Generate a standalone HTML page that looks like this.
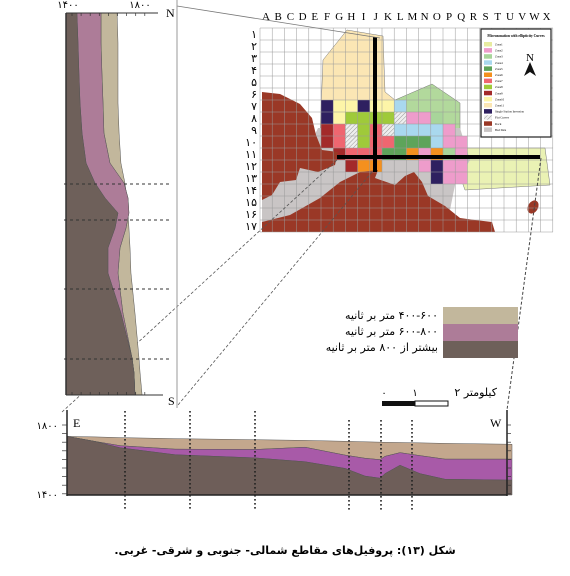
<!DOCTYPE html>
<html><head><meta charset="utf-8"><style>
body{margin:0;background:#fff;width:570px;height:576px;overflow:hidden}
svg{display:block}
text{font-family:"Liberation Serif","DejaVu Sans",serif}
.fa{font-family:"DejaVu Sans",sans-serif;direction:rtl;unicode-bidi:embed}
</style></head><body>
<svg id="fig" width="570" height="576" viewBox="0 0 570 576" xmlns="http://www.w3.org/2000/svg">
<defs>
<pattern id="hatch" width="3" height="3" patternUnits="userSpaceOnUse" patternTransform="rotate(45)"><rect width="3" height="3" fill="#eee"/><line x1="0" y1="0" x2="0" y2="3" stroke="#999" stroke-width="1"/></pattern>
</defs>
<g id="map"></g>
<g id="left"></g>
<g id="bottom"></g>
<g id="legend">
<rect x="443" y="307" width="75" height="17" fill="#c2b79c"/>
<rect x="443" y="324" width="75" height="17" fill="#ad7c98"/>
<rect x="443" y="341" width="75" height="17" fill="#6e605a"/>
<text class="fa" x="438" y="319" font-size="11" text-anchor="start">۴۰۰-۶۰۰ متر بر ثانیه</text>
<text class="fa" x="438" y="335" font-size="11" text-anchor="start">۶۰۰-۸۰۰ متر بر ثانیه</text>
<text class="fa" x="438" y="351" font-size="11" text-anchor="start">بیشتر از ۸۰۰ متر بر ثانیه</text>
</g>
<g>
<rect x="382" y="401" width="33" height="5" fill="#111"/>
<rect x="415" y="401" width="33" height="5" fill="#fff" stroke="#111" stroke-width="1"/>
<text x="384" y="396" font-size="10" text-anchor="middle">۰</text>
<text x="415" y="396" font-size="10" text-anchor="middle">۱</text>
<text class="fa" x="497" y="396" font-size="11" text-anchor="start">کیلومتر ۲</text>
</g>
<text class="fa" x="285" y="554" font-size="11" font-weight="bold" text-anchor="middle">شکل (۱۳): پروفیل‌های مقاطع شمالی- جنوبی و شرقی- غربی.</text>
</svg>
<script>
const NS="http://www.w3.org/2000/svg";
function mk(p,t,a){const e=document.createElementNS(NS,t);for(const k in a)e.setAttribute(k,a[k]);p.appendChild(e);return e;}
// ---------- N-S profile data ----------
const nsPos=[0,30,60,90,120,150,170,185,200,215,235,260,300,345,360,382];
const nsTop=[1647,1652,1652,1652,1658,1668,1690,1701,1707,1712,1718,1723,1745,1767,1773,1784];
const nsMid=[1559,1559,1564,1570,1575,1608,1685,1707,1712,1696,1663,1652,1679,1729,1740,1745];
const nsBot=[1427,1433,1438,1444,1455,1477,1526,1581,1652,1636,1597,1597,1668,1729,1740,1745];
const nsDash=[171,207,276,346];
const L=document.getElementById('left');
const lx=v=>72+(v-1400)*(145-72)/400, ly=d=>13+d;
function band(g,pts,fill,name){
  const e=mk(g,'polygon',{points:pts.join(' '),fill:fill,stroke:'#555','stroke-width':0.5});
  return e;}
function lband(a,b,fill,name){
  const pts=[];nsPos.forEach((p,i)=>pts.push(lx(a[i])+','+ly(p)));
  for(let i=nsPos.length-1;i>=0;i--)pts.push((b?lx(b[i]):66)+','+ly(nsPos[i]));
  band(L,pts,fill,name);}
lband(nsTop,nsMid,'#c2b79c','ns-band-400-600');
lband(nsMid,nsBot,'#ad7c98','ns-band-600-800');
lband(nsBot,null,'#6e605a','ns-band-over-800');
mk(L,'line',{x1:66,y1:13,x2:66,y2:395,stroke:'#333','stroke-width':1.5});
mk(L,'line',{x1:66,y1:13,x2:158,y2:13,stroke:'#333','stroke-width':1});
mk(L,'line',{x1:66,y1:395,x2:163,y2:395,stroke:'#333','stroke-width':1});
for(let i=0;i<9;i++){const x=72+i*9.1;mk(L,'line',{x1:x,y1:13,x2:x,y2:16,stroke:'#333','stroke-width':0.7});mk(L,'line',{x1:x,y1:392,x2:x,y2:395,stroke:'#333','stroke-width':0.7});}
nsDash.forEach(d=>{const e=mk(L,'line',{x1:64,y1:ly(d),x2:170,y2:ly(d),stroke:'#333','stroke-width':1,'stroke-dasharray':'3,3'});});
mk(L,'line',{x1:177,y1:0,x2:177,y2:408,stroke:'#999','stroke-width':1});
[['۱۴۰۰',68],['۱۸۰۰',140]].forEach(t=>{const e=mk(L,'text',{x:t[1],y:8,'font-size':10,'text-anchor':'middle'});e.textContent=t[0];});
let e=mk(L,'text',{x:166,y:17,'font-size':12});e.textContent='N';
e=mk(L,'text',{x:168,y:405,'font-size':12});e.textContent='S';
// ---------- E-W profile data ----------
const ewPos=[0,28,53,108,188,238,278,298,313,318,333,353,378,445];
const ewTop=[1735,1732,1728,1722,1716,1712,1707,1704,1702,1701,1700,1698,1695,1690];
const ewMid=[1735,1706,1682,1662,1660,1673,1628,1610,1602,1621,1642,1625,1605,1605];
const ewBot=[1735,1706,1670,1630,1612,1590,1552,1508,1496,1522,1570,1522,1490,1485];
const ewDash=[125,190,255,349,381,412];
const B=document.getElementById('bottom');
const bx=p=>67+p*(507-67)/440, by=v=>495-(v-1400)*(495-425)/400;
function bband(a,b,fill,name){
  const pts=[];ewPos.forEach((p,i)=>pts.push(bx(p)+','+by(a[i])));
  for(let i=ewPos.length-1;i>=0;i--)pts.push(bx(ewPos[i])+','+(b?by(b[i]):495));
  band(B,pts,fill,name);}
bband(ewTop,ewMid,'#c3a78d','ew-band-400-600');
bband(ewMid,ewBot,'#a85aa8','ew-band-600-800');
bband(ewBot,null,'#6e5e59','ew-band-over-800');
mk(B,'line',{x1:67,y1:410,x2:67,y2:496,stroke:'#222','stroke-width':1.5});
mk(B,'line',{x1:507,y1:410,x2:507,y2:496,stroke:'#222','stroke-width':1.5});
mk(B,'line',{x1:67,y1:495,x2:507,y2:495,stroke:'#222','stroke-width':1.5});
for(let i=0;i<9;i++){const y=425+i*8.6;mk(B,'line',{x1:62,y1:y,x2:67,y2:y,stroke:'#333','stroke-width':0.7});mk(B,'line',{x1:507,y1:y,x2:511,y2:y,stroke:'#333','stroke-width':0.7});}
e=mk(B,'text',{x:58,y:429,'font-size':10,'text-anchor':'end'});e.textContent='۱۸۰۰';
e=mk(B,'text',{x:58,y:498,'font-size':10,'text-anchor':'end'});e.textContent='۱۴۰۰';
e=mk(B,'text',{x:73,y:427,'font-size':12});e.textContent='E';
e=mk(B,'text',{x:490,y:427,'font-size':12});e.textContent='W';
ewDash.forEach((x,i)=>{const y0=i<3?411:420;const el=mk(B,'line',{x1:x,y1:y0,x2:x,y2:510,stroke:'#222','stroke-width':1.6,'stroke-dasharray':'1.6,2.4'});});
// ---------- Map ----------
const M=document.getElementById('map');
const cx=c=>260+c*12.2, cy=r=>28+r*12;
mk(M,'polygon',{points:'347,30 383,36 385,92 395,100 395,135 320,135 323,60',fill:'#fbe6b4',stroke:'#777','stroke-width':0.5});
mk(M,'polygon',{points:'395,100 432,84 460,103 460,135 395,135',fill:'#b2d99c',stroke:'#777','stroke-width':0.5});
mk(M,'polygon',{points:'450,148 545,148 550,185 465,190',fill:'#eaf2b4',stroke:'#777','stroke-width':0.5});
mk(M,'polygon',{points:'262,200 270,175 300,165 318,128 460,128 470,160 455,185 450,210 460,222 262,230',fill:'#c9c5c5'});
const C={nv:'#2e2060',ly:'#fdf5a8',lb:'#a9d8ee',lg:'#a8d59a',lm:'#9fca3a',pk:'#ee9ccb',dr:'#a32a2a',sa:'#ef6670',dg:'#5ea45a',or:'#f4901e',ht:'url(#hatch)'};
const cells=[
[6,5,'nv'],[6,6,'ly'],[6,7,'ly'],[6,8,'nv'],[6,9,'ly'],[6,10,'ly'],[6,11,'lb'],
[7,5,'nv'],[7,6,'ly'],[7,7,'lm'],[7,8,'lm'],[7,9,'lm'],[7,10,'lm'],[7,11,'ht'],[7,12,'pk'],[7,13,'pk'],[7,14,'lg'],
[8,5,'dr'],[8,6,'sa'],[8,7,'ht'],[8,8,'lm'],[8,9,'sa'],[8,10,'ht'],[8,11,'lb'],[8,12,'lb'],[8,13,'lb'],[8,14,'lb'],[8,15,'pk'],
[9,5,'dr'],[9,6,'sa'],[9,7,'ht'],[9,8,'lm'],[9,9,'sa'],[9,10,'sa'],[9,11,'dg'],[9,12,'dg'],[9,13,'dg'],[9,14,'lb'],[9,15,'pk'],[9,16,'pk'],
[10,6,'dr'],[10,7,'sa'],[10,8,'sa'],[10,9,'sa'],[10,10,'dg'],[10,11,'dg'],[10,12,'or'],[10,13,'pk'],[10,14,'or'],[10,15,'lg'],[10,16,'pk'],
[11,7,'dr'],[11,8,'or'],[11,9,'or'],[11,13,'pk'],[11,14,'nv'],[11,15,'pk'],[11,16,'pk'],
[12,14,'nv'],[12,15,'pk'],[12,16,'pk']];
cells.forEach(c=>{const el=mk(M,'rect',{x:cx(c[1]),y:cy(c[0]),width:12.2,height:12,fill:C[c[2]]});});
const rock='#9a3826';
mk(M,'polygon',{points:'262,92 280,94 300,104 312,118 316,135 322,150 338,152 335,165 318,172 300,168 296,180 280,182 272,195 262,200',fill:rock});
mk(M,'polygon',{points:'262,232 262,222 290,215 320,198 340,182 360,172 378,170 375,178 395,185 405,176 414,172 422,182 428,196 445,206 460,218 475,220 492,222 495,232',fill:rock});
mk(M,'ellipse',{cx:533,cy:207,rx:5,ry:7,fill:rock,transform:'rotate(30 533 207)'});
for(let c=0;c<=24;c++)mk(M,'line',{x1:cx(c),y1:28,x2:cx(c),y2:232,stroke:'#999','stroke-width':0.5});
for(let r=0;r<=17;r++)mk(M,'line',{x1:260,y1:cy(r),x2:553,y2:cy(r),stroke:'#999','stroke-width':0.5});
const letters='A B C D E F G H I J K L M N O P Q R S T U V W X'.split(' ');
letters.forEach((l,i)=>{const t=mk(M,'text',{x:cx(i)+6,y:20,'font-size':11,'text-anchor':'middle'});t.textContent=l;});
const rows=['۱','۲','۳','۴','۵','۶','۷','۸','۹','۱۰','۱۱','۱۲','۱۳','۱۴','۱۵','۱۶','۱۷'];
rows.forEach((l,i)=>{const t=mk(M,'text',{x:257,y:cy(i)+10,'font-size':11,'text-anchor':'end'});t.textContent=l;});
mk(M,'rect',{x:481,y:29,width:70,height:108,fill:'#fff',stroke:'#222','stroke-width':1.2});
let t=mk(M,'text',{x:516,y:37,'font-size':3.6,'text-anchor':'middle','font-weight':'bold'});t.textContent='Microzonation with ellipticity Curves';
const lg=['#e8eca0','#ee9ccb','#a8d59a','#a9d8ee','#5ea45a','#f4901e','#ef6670','#9fca3a','#a32a2a','#fdf5a8','#fbe6b4','#2e2060','url(#hatch)','#9a3826','#c9c5c5'];
const lgn=['Zone1','Zone2','Zone3','Zone4','Zone5','Zone6','Zone7','Zone8','Zone9','Zone10','Zone11','Single Station Inversion','Flat Curves','Rock','Bad Data'];
lg.forEach((c,i)=>{mk(M,'rect',{x:484,y:42+i*6.1,width:8,height:4.5,fill:c});const tt=mk(M,'text',{x:495,y:45.5+i*6.1,'font-size':3});tt.textContent=lgn[i];});
t=mk(M,'text',{x:530,y:61,'font-size':11,'text-anchor':'middle'});t.textContent='N';
mk(M,'polygon',{points:'530,62 524,76 530,72 536,76',fill:'#111'});
mk(M,'line',{x1:375,y1:37,x2:375,y2:172,stroke:'#000','stroke-width':4});
mk(M,'line',{x1:337,y1:157,x2:540,y2:157,stroke:'#000','stroke-width':4});
mk(M,'line',{x1:177,y1:6,x2:380,y2:38,stroke:'#777','stroke-width':0.8});
mk(M,'line',{x1:337,y1:160,x2:62,y2:412,stroke:'#555','stroke-width':0.8,'stroke-dasharray':'3,2'});
mk(M,'line',{x1:372,y1:172,x2:178,y2:405,stroke:'#555','stroke-width':0.8,'stroke-dasharray':'3,2'});
mk(M,'line',{x1:541,y1:158,x2:507,y2:410,stroke:'#444','stroke-width':1,'stroke-dasharray':'3,2'});
</script>
</body></html>
